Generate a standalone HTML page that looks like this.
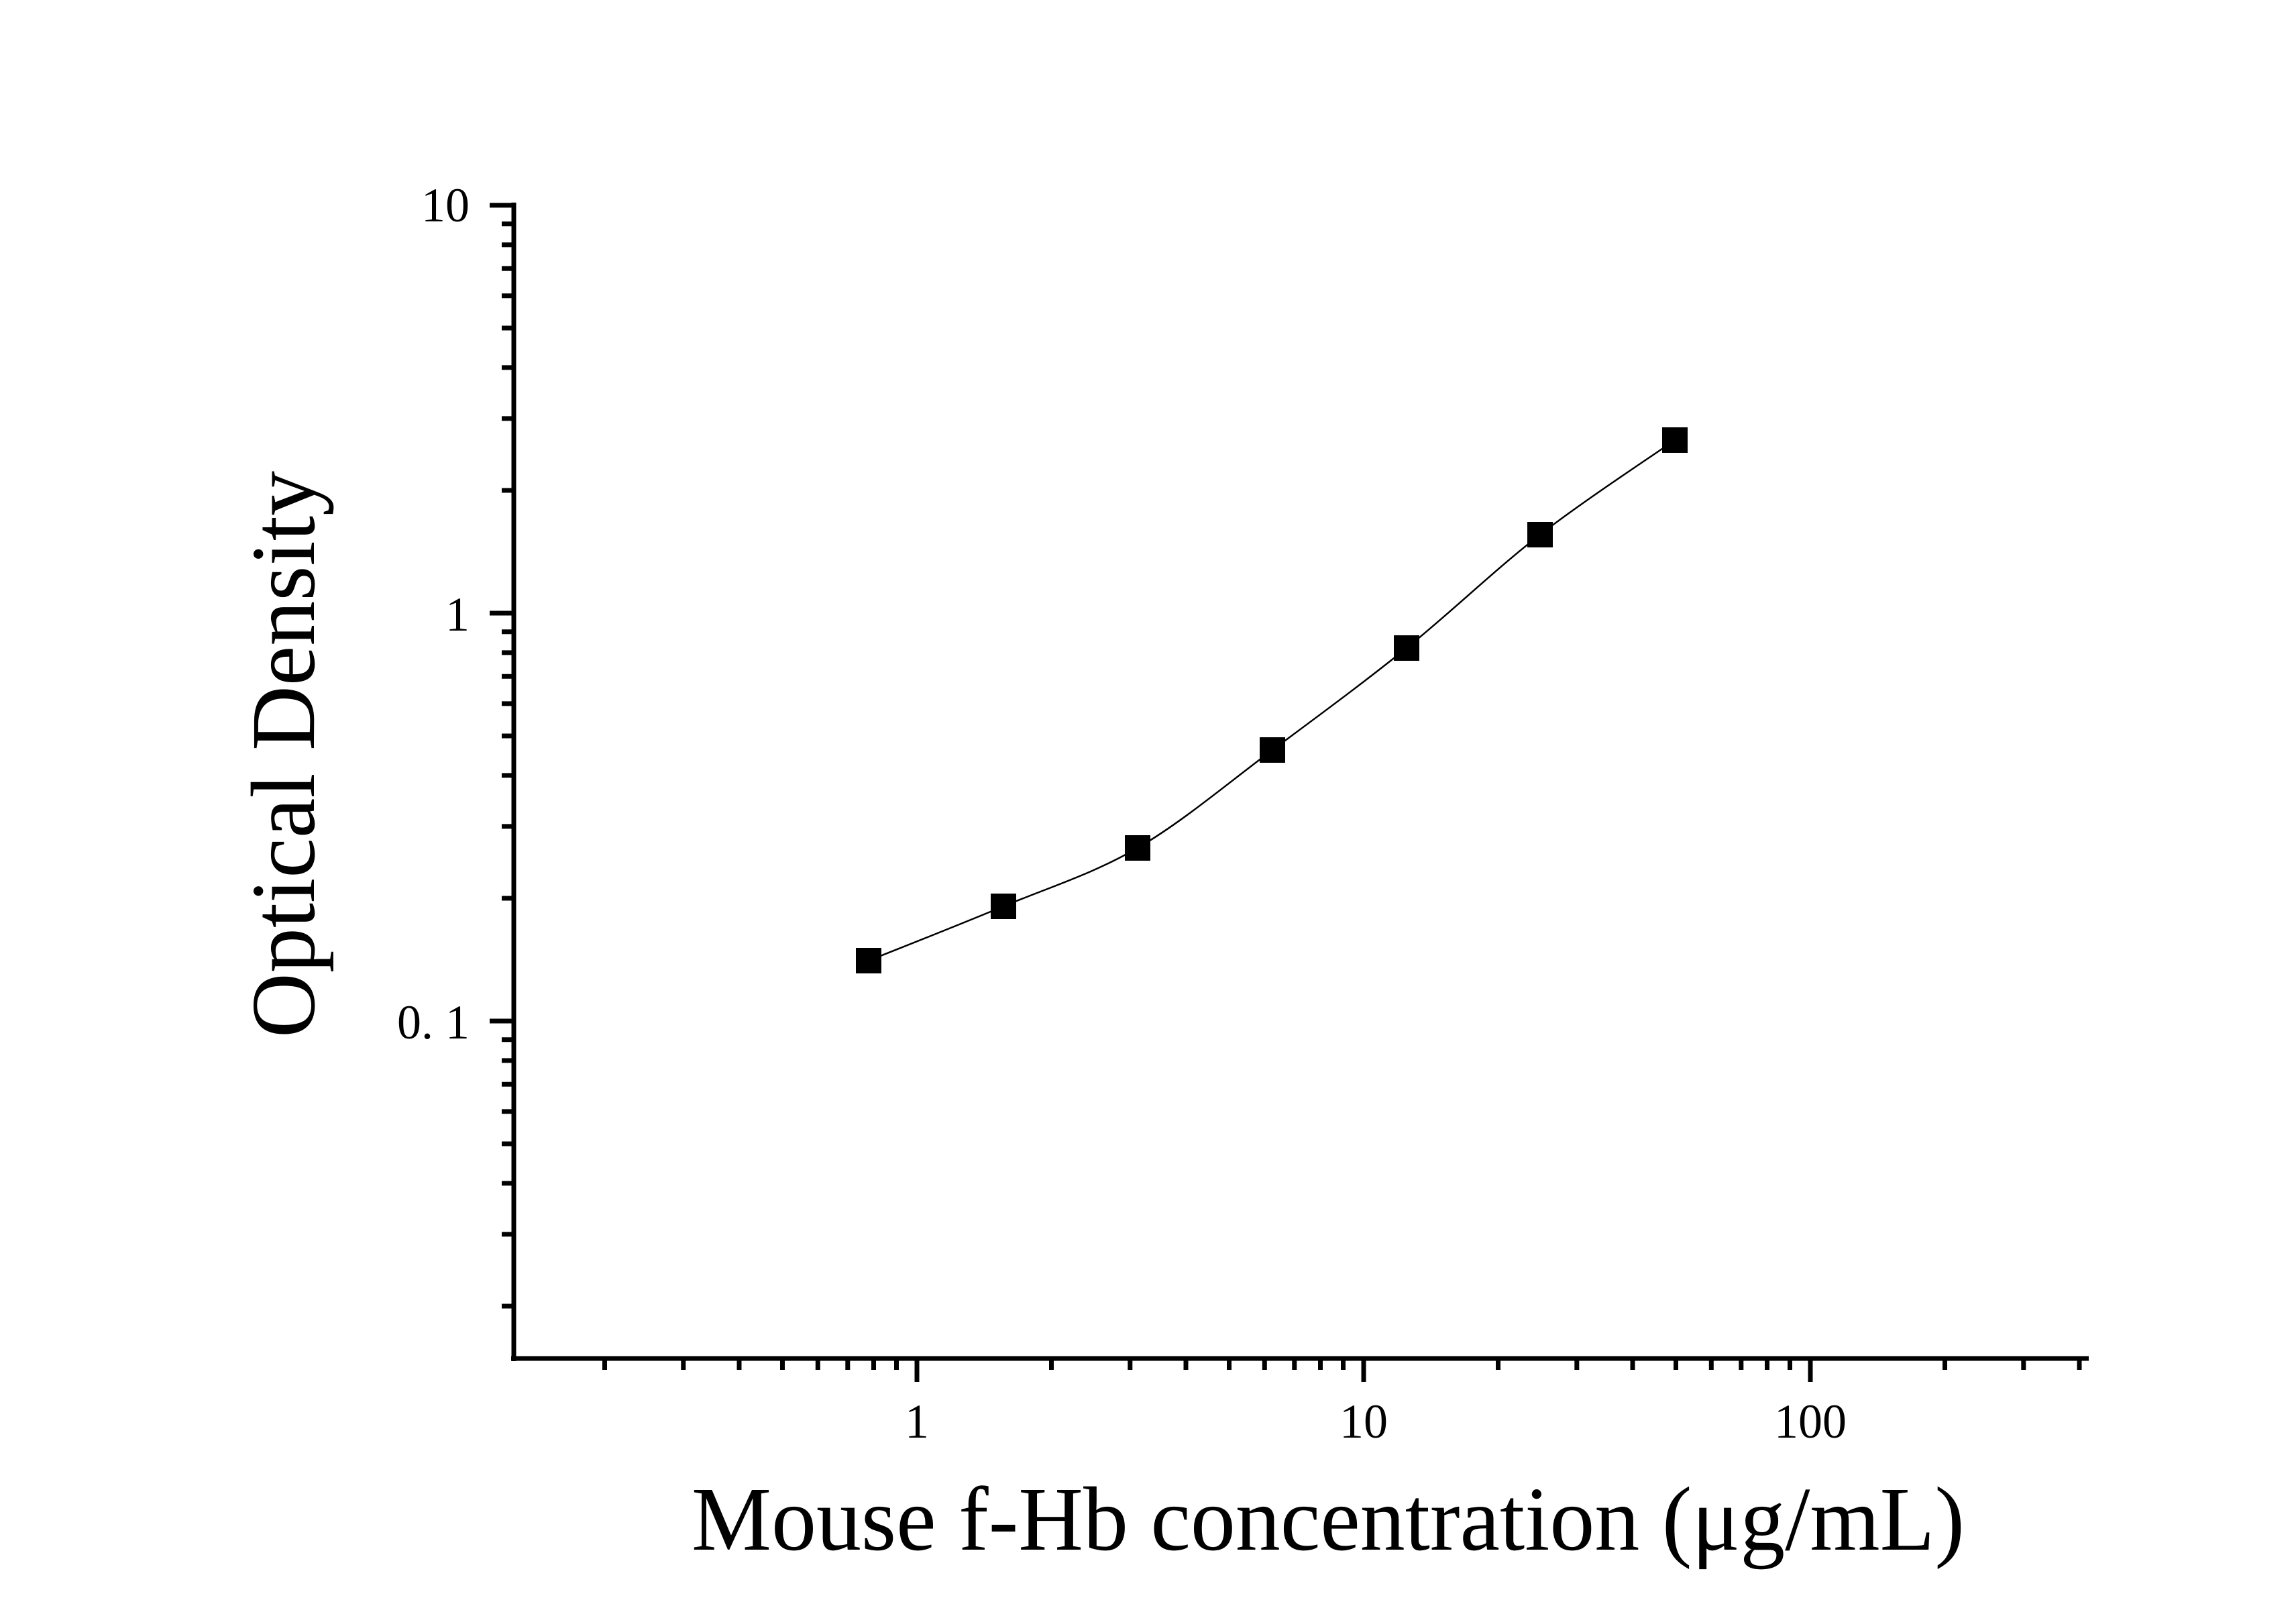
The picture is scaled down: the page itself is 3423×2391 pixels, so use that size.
<!DOCTYPE html>
<html><head><meta charset="utf-8"><style>html,body{margin:0;padding:0;background:#fff}svg{display:block}</style></head>
<body>
<svg xmlns="http://www.w3.org/2000/svg" width="3423" height="2391" viewBox="0 0 3423 2391" font-family="'Liberation Serif', serif">
<rect width="3423" height="2391" fill="#fff"/>
<g stroke="#000" stroke-width="7">
<line x1="766" y1="302" x2="766" y2="2029"/>
<line x1="762" y1="2025" x2="3114" y2="2025"/>
<!-- x ticks -->
<line x1="901.5" y1="2025" x2="901.5" y2="2042"/>
<line x1="1018.8" y1="2025" x2="1018.8" y2="2042"/>
<line x1="1102" y1="2025" x2="1102" y2="2042"/>
<line x1="1166.5" y1="2025" x2="1166.5" y2="2042"/>
<line x1="1219.3" y1="2025" x2="1219.3" y2="2042"/>
<line x1="1263.8" y1="2025" x2="1263.8" y2="2042"/>
<line x1="1302.5" y1="2025" x2="1302.5" y2="2042"/>
<line x1="1336.5" y1="2025" x2="1336.5" y2="2042"/>
<line x1="1367" y1="2025" x2="1367" y2="2060"/>
<line x1="1567.5" y1="2025" x2="1567.5" y2="2042"/>
<line x1="1684.8" y1="2025" x2="1684.8" y2="2042"/>
<line x1="1768" y1="2025" x2="1768" y2="2042"/>
<line x1="1832.5" y1="2025" x2="1832.5" y2="2042"/>
<line x1="1885.3" y1="2025" x2="1885.3" y2="2042"/>
<line x1="1929.8" y1="2025" x2="1929.8" y2="2042"/>
<line x1="1968.5" y1="2025" x2="1968.5" y2="2042"/>
<line x1="2002.5" y1="2025" x2="2002.5" y2="2042"/>
<line x1="2033" y1="2025" x2="2033" y2="2060"/>
<line x1="2233.5" y1="2025" x2="2233.5" y2="2042"/>
<line x1="2350.8" y1="2025" x2="2350.8" y2="2042"/>
<line x1="2434" y1="2025" x2="2434" y2="2042"/>
<line x1="2498.5" y1="2025" x2="2498.5" y2="2042"/>
<line x1="2551.3" y1="2025" x2="2551.3" y2="2042"/>
<line x1="2595.8" y1="2025" x2="2595.8" y2="2042"/>
<line x1="2634.5" y1="2025" x2="2634.5" y2="2042"/>
<line x1="2668.5" y1="2025" x2="2668.5" y2="2042"/>
<line x1="2699" y1="2025" x2="2699" y2="2060"/>
<line x1="2899.5" y1="2025" x2="2899.5" y2="2042"/>
<line x1="3016.8" y1="2025" x2="3016.8" y2="2042"/>
<line x1="3100" y1="2025" x2="3100" y2="2042"/>
<!-- y ticks -->
<line x1="766" y1="306" x2="730" y2="306"/>
<line x1="766" y1="333.8" x2="748" y2="333.8"/>
<line x1="766" y1="364.9" x2="748" y2="364.9"/>
<line x1="766" y1="400.2" x2="748" y2="400.2"/>
<line x1="766" y1="440.9" x2="748" y2="440.9"/>
<line x1="766" y1="489" x2="748" y2="489"/>
<line x1="766" y1="547.9" x2="748" y2="547.9"/>
<line x1="766" y1="623.9" x2="748" y2="623.9"/>
<line x1="766" y1="731" x2="748" y2="731"/>
<line x1="766" y1="914" x2="730" y2="914"/>
<line x1="766" y1="941.8" x2="748" y2="941.8"/>
<line x1="766" y1="972.9" x2="748" y2="972.9"/>
<line x1="766" y1="1008.2" x2="748" y2="1008.2"/>
<line x1="766" y1="1048.9" x2="748" y2="1048.9"/>
<line x1="766" y1="1097" x2="748" y2="1097"/>
<line x1="766" y1="1155.9" x2="748" y2="1155.9"/>
<line x1="766" y1="1231.9" x2="748" y2="1231.9"/>
<line x1="766" y1="1339" x2="748" y2="1339"/>
<line x1="766" y1="1522" x2="730" y2="1522"/>
<line x1="766" y1="1549.8" x2="748" y2="1549.8"/>
<line x1="766" y1="1580.9" x2="748" y2="1580.9"/>
<line x1="766" y1="1616.2" x2="748" y2="1616.2"/>
<line x1="766" y1="1656.9" x2="748" y2="1656.9"/>
<line x1="766" y1="1705" x2="748" y2="1705"/>
<line x1="766" y1="1763.9" x2="748" y2="1763.9"/>
<line x1="766" y1="1839.9" x2="748" y2="1839.9"/>
<line x1="766" y1="1947" x2="748" y2="1947"/>
</g>
<path d="M1295,1432 C1328.5,1418.5 1429.2,1379 1496,1351 C1562.8,1323 1629.2,1302.8 1696,1264 C1762.8,1225.2 1830.2,1167.7 1897,1118 C1963.8,1068.3 2030.5,1019.5 2097,966 C2163.5,912.5 2229.3,848.7 2296,797 C2362.7,745.3 2463.5,679.5 2497,656" fill="none" stroke="#000" stroke-width="2.5"/>
<g fill="#000">
<rect x="1276" y="1413" width="38" height="38"/>
<rect x="1477" y="1332" width="38" height="38"/>
<rect x="1677" y="1245" width="38" height="38"/>
<rect x="1878" y="1099" width="38" height="38"/>
<rect x="2078" y="947" width="38" height="38"/>
<rect x="2277" y="778" width="38" height="38"/>
<rect x="2478" y="637" width="38" height="38"/>
</g>
<g font-size="72" fill="#000">
<text x="700" y="330" text-anchor="end">10</text>
<text x="700" y="940" text-anchor="end">1</text>
<text x="700" y="1548" text-anchor="end">0. 1</text>
<text x="1367" y="2143" text-anchor="middle">1</text>
<text x="2033" y="2143" text-anchor="middle">10</text>
<text x="2699" y="2143" text-anchor="middle">100</text>
</g>
<text x="1031" y="2310" font-size="136" textLength="1898" lengthAdjust="spacingAndGlyphs">Mouse f-Hb concentration (μg/mL)</text>
<text transform="translate(468,1547) rotate(-90)" font-size="136" textLength="845" lengthAdjust="spacingAndGlyphs">Optical Density</text>
</svg>
</body></html>
